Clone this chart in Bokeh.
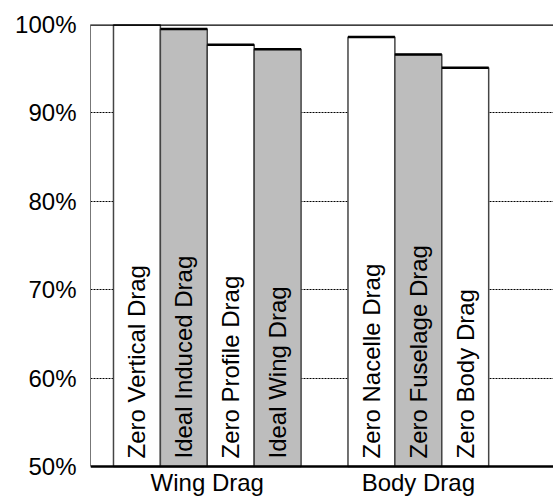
from bokeh.plotting import figure
from bokeh.models import FixedTicker, Span, ColumnDataSource
from bokeh.core.properties import value
from bokeh.embed import file_html
from bokeh.resources import INLINE

# ---- data ----
bar_names = ["Zero Vertical Drag", "Ideal Induced Drag", "Zero Profile Drag", "Ideal Wing Drag",
             "Zero Nacelle Drag", "Zero Fuselage Drag", "Zero Body Drag"]
bar_values = [100.0, 99.5, 97.7, 97.2, 98.6, 96.6, 95.1]
bar_group = [0, 0, 0, 0, 1, 1, 1]
bar_shade = ["white", "gray", "white", "gray", "white", "gray", "white"]
group_names = ["Wing Drag", "Body Drag"]
ytick_values = [50, 60, 70, 80, 90, 100]
ytick_labels = ["50%", "60%", "70%", "80%", "90%", "100%"]
grid_values = [60, 70, 80, 90]

FONT = "Liberation Sans"
fill_map = {"white": "#ffffff", "gray": "#bdbdbd"}
BASE = 50
TOP = 100

# layout (pixels)
W, H = 553, 498
LEFT, TOPPX = 90, 24
PLOT_H = 442          # pixels between TOP and BASE
BAR_PX = 46.9         # pixels per bar slot
below_px = H - TOPPX - PLOT_H
y_start = BASE - below_px * (TOP - BASE) / PLOT_H
x_start = -0.49
x_end = x_start + (W - LEFT) / BAR_PX

# positions: bars side by side, one empty slot between groups
centers = [i + g + 0.5 for i, g in enumerate(bar_group)]
lefts = [c - 0.5 for c in centers]
rights = [c + 0.5 for c in centers]

src = ColumnDataSource(dict(
    x=centers, top=bar_values, left=lefts, right=rights,
    name=bar_names, fill=[fill_map[s] for s in bar_shade],
    base=[BASE] * len(bar_values),
))

p = figure(width=W, height=H, output_backend="svg", toolbar_location=None,
           x_range=(x_start, x_end), y_range=(y_start, TOP),
           x_axis_location=None,
           min_border_left=LEFT, min_border_right=0, min_border_top=TOPPX, min_border_bottom=0)
p.outline_line_color = None
p.background_fill_color = "white"

# grid
p.xgrid.visible = False
p.ygrid.ticker = FixedTicker(ticks=grid_values)
p.ygrid.grid_line_color = "#000000"
p.ygrid.grid_line_width = 1
p.ygrid.grid_line_dash = "2 1"

# bars
p.vbar(x="x", top="top", bottom="base", width=1.0, source=src,
       fill_color="fill", line_color="#444444", line_width=1.5)
# heavy tops
p.segment(x0="left", y0="top", x1="right", y1="top", source=src,
          line_color="#000000", line_width=2.5)

# labels inside bars
p.text(x="x", y="base", text="name", source=src, angle=1.5708,
       text_align="left", text_baseline="middle", y_offset=-8,
       text_font=value(FONT), text_font_size="24px", text_color="#000000")

# top and bottom lines
p.add_layout(Span(location=TOP, dimension="width", line_color="#000000", line_width=2.5))
p.add_layout(Span(location=BASE, dimension="width", line_color="#000000", line_width=2.5))

# group labels below the baseline
group_centers = []
for g in range(len(group_names)):
    cs = [c for c, gg in zip(centers, bar_group) if gg == g]
    group_centers.append(sum(cs) / len(cs))
gsrc = ColumnDataSource(dict(x=group_centers, y=[BASE] * len(group_names), t=group_names))
p.text(x="x", y="y", text="t", source=gsrc, text_align="center", text_baseline="top",
       y_offset=2, text_font=value(FONT), text_font_size="24px", text_color="#000000")

# y axis
p.yaxis.bounds = (BASE, TOP)
p.yaxis.ticker = FixedTicker(ticks=ytick_values)
p.yaxis.major_label_overrides = {v: l for v, l in zip(ytick_values, ytick_labels)}
p.yaxis.major_label_text_font = FONT
p.yaxis.major_label_text_font_size = "24px"
p.yaxis.major_label_text_color = "#000000"
p.yaxis.major_label_standoff = 8
p.yaxis.major_tick_line_color = None
p.yaxis.minor_tick_line_color = None
p.yaxis.axis_line_color = "#777777"
p.yaxis.axis_line_width = 1

open("out.html", "w").write(file_html(p, INLINE))
